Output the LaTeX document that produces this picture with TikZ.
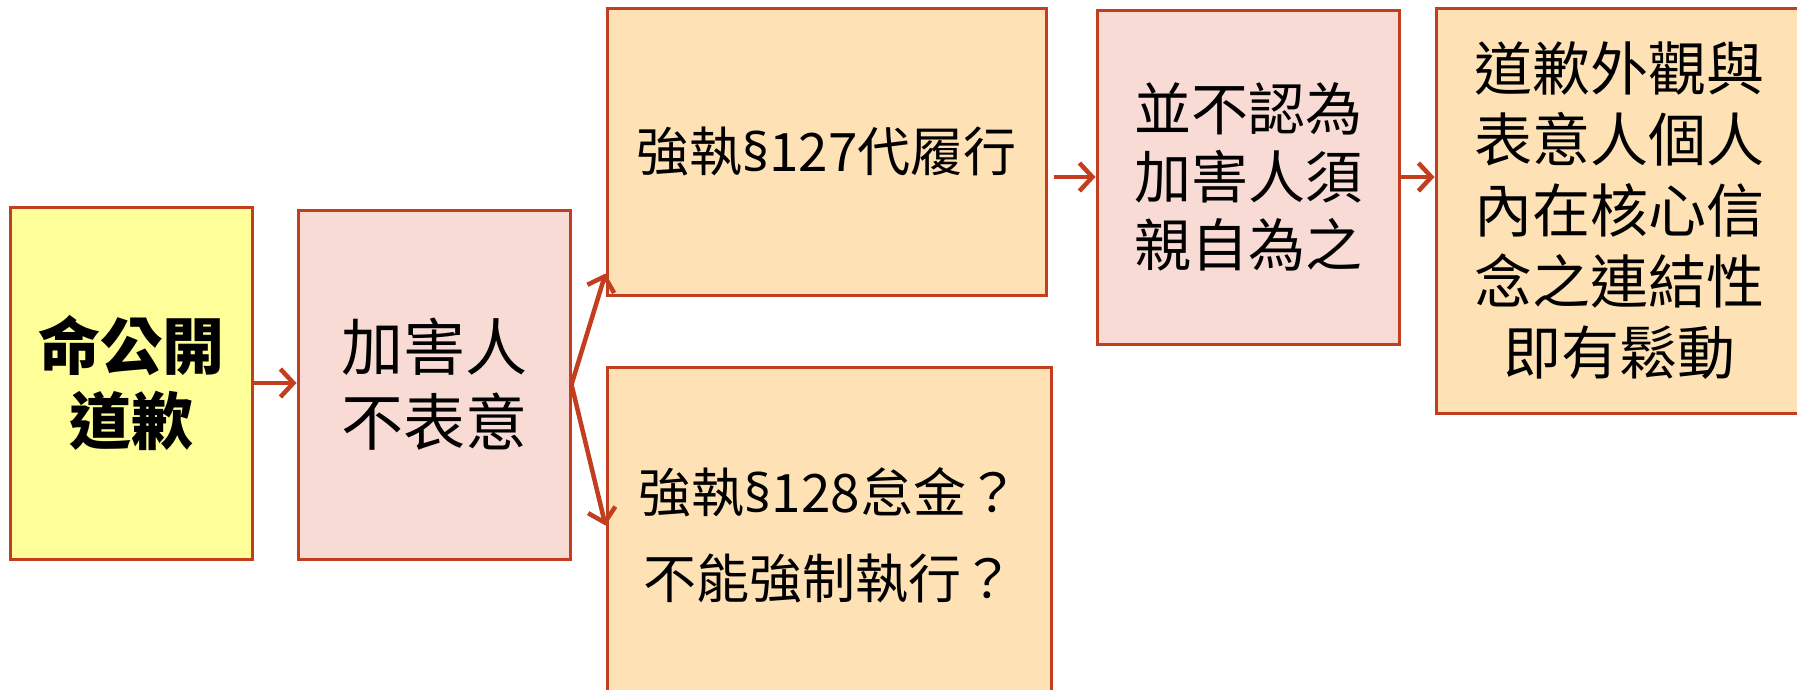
\documentclass[tikz,border=0pt]{standalone}
\usepackage{fontspec}
\setmainfont{Noto Sans CJK TC}
\newfontfamily\sectfont{Noto Sans}
\newcommand{\sectsign}{{\sectfont §}}
\usetikzlibrary{arrows.meta}
\definecolor{edgec}{RGB}{195,62,30}
\definecolor{yelc}{RGB}{255,255,153}
\definecolor{pinkc}{RGB}{249,219,213}
\definecolor{orac}{RGB}{254,226,181}
\tikzset{
  box/.style={draw=edgec, line width=3pt, inner sep=0pt, align=center, anchor=center},
  conn/.style={draw=edgec, line width=4.5pt, -{Straight Barb[length=13pt,width=28pt,line width=4.5pt]}},
}
\begin{document}
\begin{tikzpicture}[x=1pt,y=-1pt]
\clip (0,0) rectangle (1797,689);
\fill[white] (0,0) rectangle (1797,689);
\node[box, fill=yelc, minimum width=242pt, minimum height=352pt,
  font=\fontsize{62}{75}\selectfont\bfseries] (y1) at (131,383) {命公開\\道歉};
\node[box, fill=pinkc, minimum width=272pt, minimum height=349pt,
  font=\fontsize{62}{75}\selectfont] (p1) at (434,384.5) {加害人\\不表意};
\node[box, fill=orac, minimum width=439pt, minimum height=287pt,
  font=\fontsize{53}{70}\selectfont] (o1) at (826.5,151.5) {強執\sectsign127代履行};
\node[box, fill=orac, minimum width=444pt, minimum height=336pt,
  font=\fontsize{53}{86}\selectfont] (o2) at (829,535) {強執\sectsign128怠金？\\不能強制執行？};
\node[box, fill=pinkc, minimum width=302pt, minimum height=334pt,
  font=\fontsize{57}{68}\selectfont] (p2) at (1248,177) {並不認為\\加害人須\\親自為之};
\node[box, fill=orac, minimum width=366pt, minimum height=405pt,
  font=\fontsize{58}{71}\selectfont] (r1) at (1619,210.5) {道歉外觀與\\表意人個人\\內在核心信\\念之連結性\\即有鬆動};
\draw[conn] (y1.east) -- (p1.west |- y1.east);
\draw[conn] (p1.east) -- ([yshift=23pt]o1.south west);
\draw[conn] (p1.east) -- ([yshift=-160pt]o2.north west);
\draw[conn] ([xshift=6pt]o1.east |- p2.west) -- (p2.west);
\draw[conn] (p2.east) -- (r1.west |- p2.east);
\end{tikzpicture}
\end{document}
